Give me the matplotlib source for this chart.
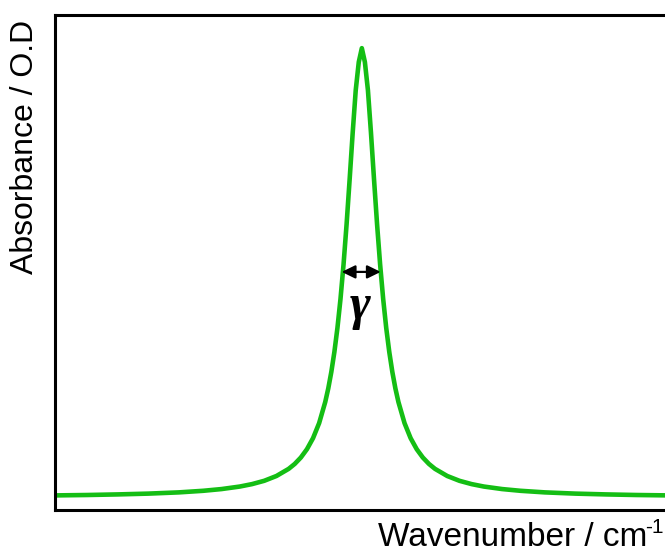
import matplotlib
matplotlib.use("Agg")
import matplotlib.pyplot as plt

plt.rcParams['font.family'] = ['Liberation Sans', 'DejaVu Sans']

# Data (arbitrary units)
wavenumber = [0, 5.3, 10.3, 15.3, 20.3, 24.3, 27.3, 30.3, 32.3, 34.3, 36.3,
              38.3, 39.3, 40.3, 41.3, 42.3, 43.3, 44.3, 44.8, 45.3, 45.8,
              46.3, 46.8, 47.3, 47.8, 48.3, 48.8, 49.3, 49.8,
              50.3,
              50.8, 51.3, 51.8, 52.3, 52.8, 53.3, 53.8, 54.3, 54.8, 55.3, 55.8,
              56.3, 57.3, 58.3, 59.3, 60.3, 61.3, 62.3, 64.3, 66.3, 68.3,
              70.3, 73.3, 76.3, 80.3, 85.3, 90.3, 95.3, 100.6]
absorbance = [0.0295, 0.0303, 0.0315, 0.0331, 0.0356, 0.0388, 0.0423, 0.0474,
              0.0523, 0.0590, 0.0687, 0.0831, 0.0931, 0.1060, 0.1228, 0.1451,
              0.1755, 0.2181, 0.2457, 0.2790, 0.3192, 0.3677, 0.4262, 0.4958,
              0.5770, 0.6676, 0.7618, 0.8480, 0.9050,
              0.933,
              0.9050, 0.8480, 0.7618, 0.6676, 0.5770, 0.4958, 0.4262, 0.3677,
              0.3192, 0.2790, 0.2457, 0.2181, 0.1755, 0.1451, 0.1228, 0.1060,
              0.0931, 0.0831, 0.0687, 0.0590, 0.0523, 0.0474, 0.0423, 0.0388,
              0.0356, 0.0331, 0.0315, 0.0303, 0.0295]
fwhm_left, fwhm_right, half_max = 47.0, 53.4, 0.481

W, H = 665, 554
fig = plt.figure(figsize=(W / 100, H / 100), dpi=100)
ax = fig.add_axes([55 / W, (H - 510) / H, 1 - 55 / W, (510 - 15) / H])

ax.plot(wavenumber, absorbance, color='#14BE14', lw=3.3, solid_joinstyle='round')
ax.set_xlim(0, 100)
ax.set_ylim(0, 1)
ax.set_xticks([])
ax.set_yticks([])
for s in ['left', 'top', 'bottom']:
    ax.spines[s].set_linewidth(2.2)
ax.spines['right'].set_visible(False)

ax.annotate('', xy=(fwhm_left, half_max), xytext=(fwhm_right, half_max),
            arrowprops=dict(arrowstyle='<|-|>,head_length=0.45,head_width=0.22',
                            color='black', lw=1.6, shrinkA=0, shrinkB=0,
                            mutation_scale=18))
ax.text((fwhm_left + fwhm_right) / 2 - 0.2, half_max - 0.07, 'γ',
        family=['Liberation Serif', 'DejaVu Serif'], fontweight='bold',
        fontstyle='italic', fontsize=36, ha='center', va='center')

fig.text(25 / W, 1 - 20 / H, 'Absorbance / O.D', rotation=90,
         ha='center', va='top', fontsize=23)
fig.text(647 / W, 1 - 546 / H, 'Wavenumber / cm',
         ha='right', va='baseline', fontsize=24)
fig.text(645 / W, 1 - 533 / H, '-1',
         ha='left', va='baseline', fontsize=15)

fig.savefig('out.png', dpi=100)
